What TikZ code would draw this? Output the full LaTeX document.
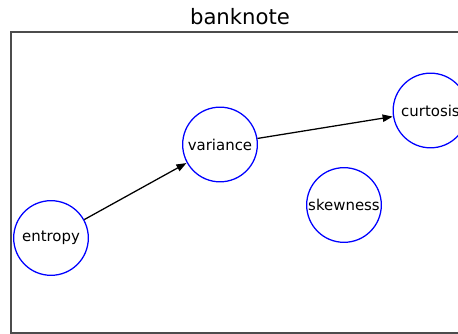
\documentclass[tikz,border=0pt]{standalone}
\usepackage{fontspec}
\setmainfont{DejaVu Sans}
\usetikzlibrary{arrows.meta}

\tikzset{
	var/.style = {circle, draw = blue, line width = 0.95pt, minimum size = 56pt, inner sep = 0pt, font = \fontsize{11.2}{13}\selectfont},
	dep/.style = {-{Triangle[length = 7.5pt, width = 5.5pt]}, line width = 0.95pt, shorten >= 0.3pt}
}

\begin{document}
\begin{tikzpicture}[x = 0.75pt, y = -0.75pt]
			\def\w{458};
			\def\h{334};

			\useasboundingbox (0,0) rectangle (\w,\h);
			\clip (0,0) rectangle (\w,\h);

			\node (title) at (240,16.5) {\fontsize{15.9}{18}\selectfont banknote};

			\begin{scope}
				\draw [black!70, line width = 0.9pt] (11,32) rectangle (480,333);
			\end{scope}

			\begin{scope}
				\node [var] (entropy) at (51,238) {entropy};
				\node [var] (variance) at (220,144.5) {variance};
				\node [var] (skewness) at (344,205) {skewness};
				\node [var] (curtosis) at (430.5,110.5) {curtosis};
			\end{scope}

			\draw [dep] (entropy) -- (variance);
			\draw [dep] (variance) -- (curtosis);
		\end{tikzpicture}
\end{document}
